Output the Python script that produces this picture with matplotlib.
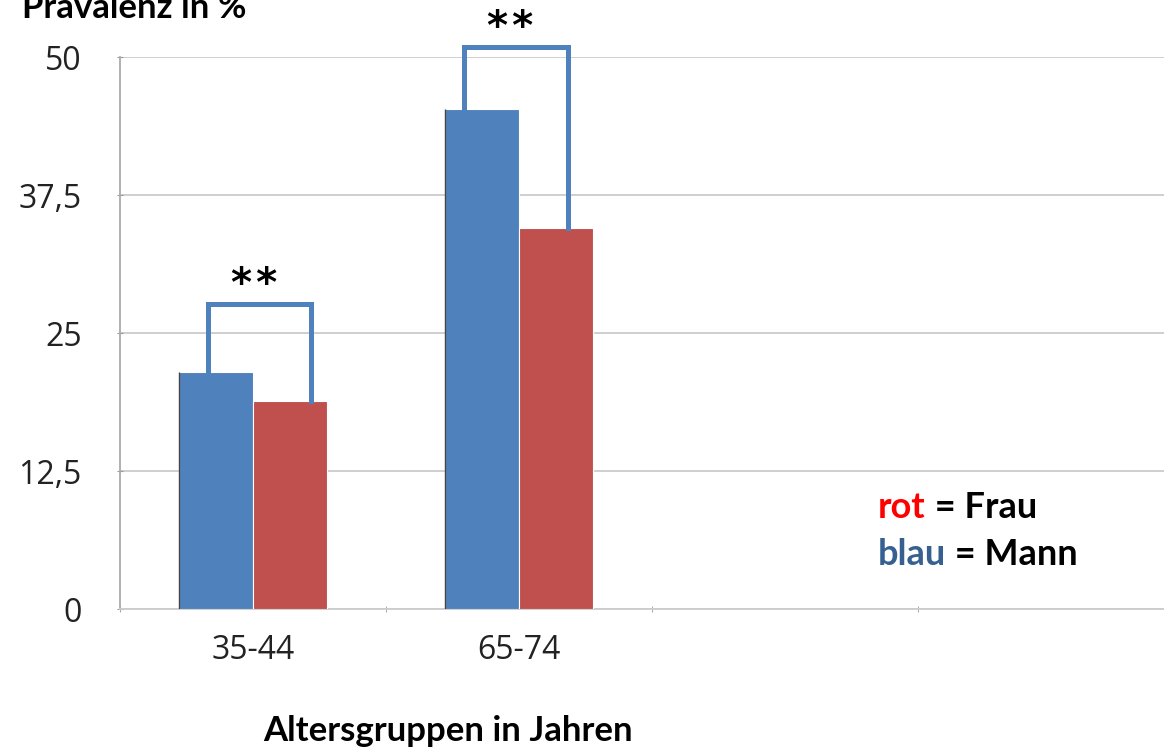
import matplotlib.pyplot as plt
import numpy as np

# data
groups = ['35-44', '65-74', '', '']
mann = [21.5, 45.3]
frau = [18.8, 34.5]
bracket_top = [27.6, 50.9]
stars = ['**', '**']
yticks = [0, 12.5, 25, 37.5, 50]
ytick_labels = ['0', '12,5', '25', '37,5', '50']

blue = '#4F81BD'
red = '#C0504D'
bracket_col = '#4F81BD'

fig = plt.figure(figsize=(11.64, 7.49), dpi=100)
ax = fig.add_axes([120/1164, 140/749, 1 - 120/1164, (609-57)/749])

x = np.arange(len(mann))
w = 0.277
ax.bar(x - w/2, mann, width=w, color=blue, edgecolor='white', linewidth=0.8, zorder=3)
ax.bar(x + w/2, frau, width=w, color=red, edgecolor='white', linewidth=0.8, zorder=3)
# thin dark edge on the left side of the blue bars (like the original)
ax.vlines(x - w, 0, mann, color='#444444', lw=1.0, zorder=4)

# significance brackets (hand drawn in original, offsets a bit uneven)
left_off = [-0.03, -0.07]
right_off = [0.08, 0.045]
for i in range(len(mann)):
    xl = x[i] - w/2 + left_off[i]
    xr = x[i] + w/2 + right_off[i]
    ax.plot([xl, xl, xr, xr], [mann[i], bracket_top[i], bracket_top[i], frau[i]],
            color=bracket_col, lw=3.6, solid_joinstyle='miter', clip_on=False, zorder=4)
    ax.text((xl + xr)/2 - 0.02, bracket_top[i] - 0.1, '\u200a'.join(stars[i]),
            ha='center', va='bottom', fontsize=29, fontweight='bold',
            family='DejaVu Sans', clip_on=False)

ax.set_xlim(-0.5, 3.425)
ax.set_ylim(0, 50)
ax.set_yticks(yticks)
ax.set_yticklabels(ytick_labels, family='Open Sans')
ax.set_xticks(np.arange(len(groups)))
ax.set_xticklabels(groups, family='Open Sans')
ax.set_xticks(np.arange(len(groups)) - 0.5, minor=True)
ax.tick_params(axis='y', length=5, direction='inout', color='#999999', pad=25,
               labelsize=23, labelcolor='#222222')
ax.tick_params(axis='x', which='major', length=0, pad=18, labelsize=23, labelcolor='#222222')
ax.tick_params(axis='x', which='minor', length=4, direction='inout', color='#999999')

ax.grid(axis='y', color='#cccccc', lw=1.3, zorder=0)
for s in ['top', 'right']:
    ax.spines[s].set_visible(False)
ax.spines['left'].set_color('#aaaaaa')
ax.spines['bottom'].set_color('#cccccc')
ax.spines['left'].set_linewidth(1.3)
ax.spines['bottom'].set_linewidth(1.3)

fig.text(22/1164, (749-18)/749, 'Prävalenz in %', fontsize=25, fontweight='bold',
         family='Lato', va='baseline', ha='left')
fig.text(448/1164, (749-731)/749, 'Altersgruppen in Jahren', fontsize=25,
         fontweight='bold', family='Lato', va='center', ha='center')

t1 = fig.text(878/1164, (749-518)/749, 'rot', color='#FF0000', fontsize=26,
              fontweight='bold', family='Lato', va='baseline')
ax.annotate(' = Frau', xy=(1, 0), xycoords=t1, va='bottom', fontsize=26,
            fontweight='bold', family='Lato', color='black')
t2 = fig.text(878/1164, (749-565)/749, 'blau', color='#376092', fontsize=26,
              fontweight='bold', family='Lato', va='baseline')
ax.annotate(' = Mann', xy=(1, 0), xycoords=t2, va='bottom', fontsize=26,
            fontweight='bold', family='Lato', color='black')

fig.savefig('out.png', dpi=100)
